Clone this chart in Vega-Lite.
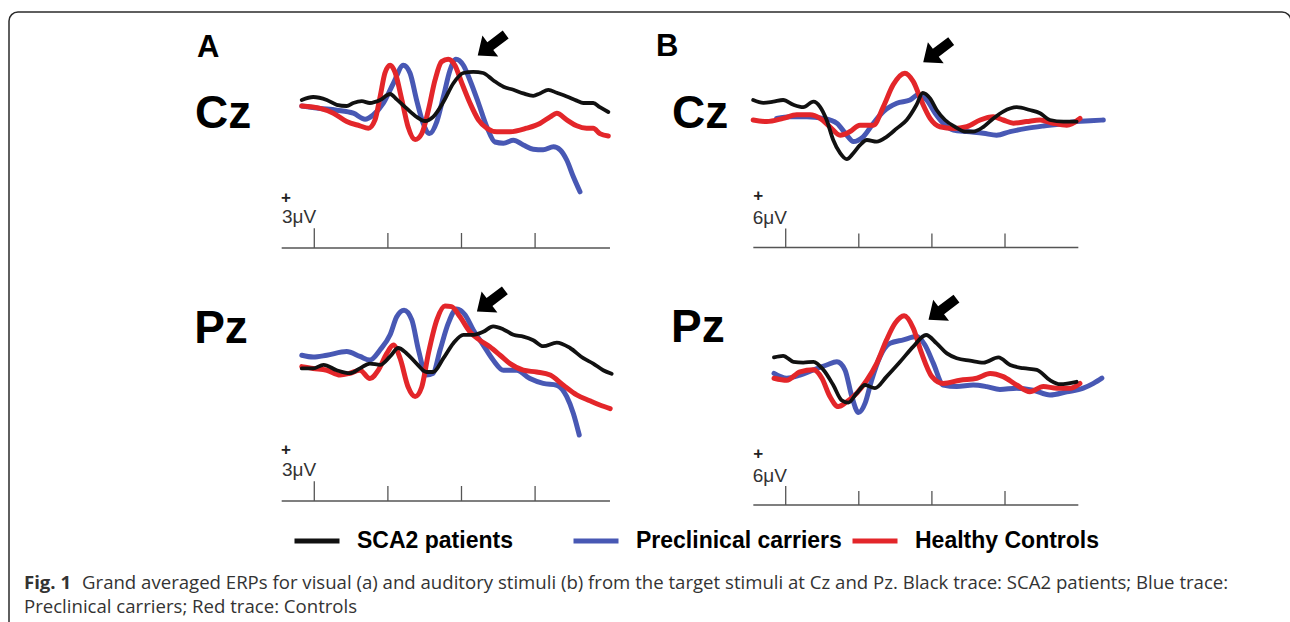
{
  "$schema": "https://vega.github.io/schema/vega-lite/v6.json",
  "autosize": {"type": "fit", "contains": "padding"},
  "width": 1290,
  "height": 622,
  "padding": {"left": 9, "top": 12, "right": -1, "bottom": -10},
  "background": "white",
  "config": {
    "view": {"stroke": "#2b2b2b", "strokeWidth": 1.5, "cornerRadius": 9},
    "text": {"font": "Liberation Sans"}
  },
  "datasets": {
    "acz": [
      {"g":"Preclinical carriers","t":-34,"v":-0.5},{"g":"Preclinical carriers","t":16,"v":-0.9},{"g":"Preclinical carriers","t":61,"v":-1.2},{"g":"Preclinical carriers","t":106,"v":-1.7},{"g":"Preclinical carriers","t":138,"v":-2.7},{"g":"Preclinical carriers","t":160,"v":-2},{"g":"Preclinical carriers","t":188,"v":0},{"g":"Preclinical carriers","t":215,"v":3.3},{"g":"Preclinical carriers","t":242,"v":6.3},{"g":"Preclinical carriers","t":260,"v":5},{"g":"Preclinical carriers","t":278,"v":0.5},{"g":"Preclinical carriers","t":296,"v":-3.4},{"g":"Preclinical carriers","t":313,"v":-5.1},{"g":"Preclinical carriers","t":333,"v":-3.1},{"g":"Preclinical carriers","t":351,"v":1.1},{"g":"Preclinical carriers","t":369,"v":5.5},{"g":"Preclinical carriers","t":385,"v":7.3},{"g":"Preclinical carriers","t":405,"v":6.3},{"g":"Preclinical carriers","t":423,"v":3.8},{"g":"Preclinical carriers","t":446,"v":0},{"g":"Preclinical carriers","t":469,"v":-4},{"g":"Preclinical carriers","t":491,"v":-6.5},{"g":"Preclinical carriers","t":514,"v":-6.7},{"g":"Preclinical carriers","t":541,"v":-6.2},{"g":"Preclinical carriers","t":568,"v":-7},{"g":"Preclinical carriers","t":595,"v":-7.7},{"g":"Preclinical carriers","t":622,"v":-7.8},{"g":"Preclinical carriers","t":650,"v":-7.3},{"g":"Preclinical carriers","t":668,"v":-7.8},{"g":"Preclinical carriers","t":686,"v":-9.5},{"g":"Preclinical carriers","t":704,"v":-12.3},{"g":"Preclinical carriers","t":722,"v":-14.8},
      {"g":"Healthy Controls","t":-34,"v":-0.5},{"g":"Healthy Controls","t":16,"v":-0.9},{"g":"Healthy Controls","t":52,"v":-1.7},{"g":"Healthy Controls","t":88,"v":-3.1},{"g":"Healthy Controls","t":124,"v":-3.8},{"g":"Healthy Controls","t":147,"v":-4.2},{"g":"Healthy Controls","t":165,"v":-2.8},{"g":"Healthy Controls","t":179,"v":1.1},{"g":"Healthy Controls","t":192,"v":5},{"g":"Healthy Controls","t":206,"v":6.3},{"g":"Healthy Controls","t":219,"v":5.2},{"g":"Healthy Controls","t":238,"v":0.5},{"g":"Healthy Controls","t":255,"v":-4},{"g":"Healthy Controls","t":274,"v":-6.1},{"g":"Healthy Controls","t":292,"v":-5.1},{"g":"Healthy Controls","t":310,"v":-1.2},{"g":"Healthy Controls","t":328,"v":3.8},{"g":"Healthy Controls","t":346,"v":6.9},{"g":"Healthy Controls","t":364,"v":7.3},{"g":"Healthy Controls","t":382,"v":6.3},{"g":"Healthy Controls","t":401,"v":3.3},{"g":"Healthy Controls","t":423,"v":0},{"g":"Healthy Controls","t":446,"v":-2.8},{"g":"Healthy Controls","t":469,"v":-4.2},{"g":"Healthy Controls","t":496,"v":-4.8},{"g":"Healthy Controls","t":532,"v":-4.8},{"g":"Healthy Controls","t":577,"v":-4.2},{"g":"Healthy Controls","t":613,"v":-3.4},{"g":"Healthy Controls","t":641,"v":-2.3},{"g":"Healthy Controls","t":659,"v":-1.7},{"g":"Healthy Controls","t":686,"v":-2.8},{"g":"Healthy Controls","t":713,"v":-3.8},{"g":"Healthy Controls","t":740,"v":-4.2},{"g":"Healthy Controls","t":758,"v":-4.2},{"g":"Healthy Controls","t":776,"v":-5.1},{"g":"Healthy Controls","t":799,"v":-5.5},
      {"g":"SCA2 patients","t":-34,"v":0.5},{"g":"SCA2 patients","t":-3,"v":1},{"g":"SCA2 patients","t":34,"v":0.5},{"g":"SCA2 patients","t":61,"v":-0.3},{"g":"SCA2 patients","t":88,"v":-0.5},{"g":"SCA2 patients","t":106,"v":0},{"g":"SCA2 patients","t":129,"v":0.3},{"g":"SCA2 patients","t":151,"v":0},{"g":"SCA2 patients","t":179,"v":0.5},{"g":"SCA2 patients","t":206,"v":1.5},{"g":"SCA2 patients","t":224,"v":0.6},{"g":"SCA2 patients","t":251,"v":-0.9},{"g":"SCA2 patients","t":278,"v":-2.3},{"g":"SCA2 patients","t":301,"v":-3},{"g":"SCA2 patients","t":323,"v":-2.3},{"g":"SCA2 patients","t":351,"v":0.2},{"g":"SCA2 patients","t":378,"v":3.3},{"g":"SCA2 patients","t":405,"v":5},{"g":"SCA2 patients","t":432,"v":5.2},{"g":"SCA2 patients","t":459,"v":5},{"g":"SCA2 patients","t":486,"v":3.8},{"g":"SCA2 patients","t":514,"v":2.7},{"g":"SCA2 patients","t":541,"v":2.2},{"g":"SCA2 patients","t":568,"v":1.6},{"g":"SCA2 patients","t":595,"v":1.2},{"g":"SCA2 patients","t":613,"v":1.6},{"g":"SCA2 patients","t":636,"v":2.2},{"g":"SCA2 patients","t":659,"v":1.7},{"g":"SCA2 patients","t":686,"v":1.1},{"g":"SCA2 patients","t":713,"v":0.4},{"g":"SCA2 patients","t":731,"v":0},{"g":"SCA2 patients","t":758,"v":0},{"g":"SCA2 patients","t":776,"v":-0.7},{"g":"SCA2 patients","t":799,"v":-1.5}
    ],
    "apz": [
      {"g":"Preclinical carriers","t":-34,"v":0.8},{"g":"Preclinical carriers","t":-3,"v":0.5},{"g":"Preclinical carriers","t":34,"v":0.8},{"g":"Preclinical carriers","t":88,"v":1.4},{"g":"Preclinical carriers","t":124,"v":0.6},{"g":"Preclinical carriers","t":151,"v":0},{"g":"Preclinical carriers","t":179,"v":1.7},{"g":"Preclinical carriers","t":206,"v":4.2},{"g":"Preclinical carriers","t":224,"v":7.2},{"g":"Preclinical carriers","t":244,"v":8.3},{"g":"Preclinical carriers","t":265,"v":6.7},{"g":"Preclinical carriers","t":283,"v":1.7},{"g":"Preclinical carriers","t":305,"v":-2.5},{"g":"Preclinical carriers","t":323,"v":-2.2},{"g":"Preclinical carriers","t":342,"v":1.7},{"g":"Preclinical carriers","t":364,"v":6.1},{"g":"Preclinical carriers","t":387,"v":8.5},{"g":"Preclinical carriers","t":410,"v":7.5},{"g":"Preclinical carriers","t":432,"v":5},{"g":"Preclinical carriers","t":459,"v":2.5},{"g":"Preclinical carriers","t":486,"v":0},{"g":"Preclinical carriers","t":514,"v":-1.7},{"g":"Preclinical carriers","t":550,"v":-1.7},{"g":"Preclinical carriers","t":586,"v":-3.1},{"g":"Preclinical carriers","t":622,"v":-3.9},{"g":"Preclinical carriers","t":659,"v":-4.2},{"g":"Preclinical carriers","t":686,"v":-6.1},{"g":"Preclinical carriers","t":704,"v":-8.9},{"g":"Preclinical carriers","t":720,"v":-12.5},
      {"g":"Healthy Controls","t":-34,"v":-1.1},{"g":"Healthy Controls","t":-3,"v":-1.4},{"g":"Healthy Controls","t":34,"v":-1.7},{"g":"Healthy Controls","t":70,"v":-2.5},{"g":"Healthy Controls","t":97,"v":-2.2},{"g":"Healthy Controls","t":124,"v":-1.7},{"g":"Healthy Controls","t":151,"v":-3.1},{"g":"Healthy Controls","t":174,"v":-1.7},{"g":"Healthy Controls","t":197,"v":1.1},{"g":"Healthy Controls","t":215,"v":2.5},{"g":"Healthy Controls","t":233,"v":0.3},{"g":"Healthy Controls","t":255,"v":-4.5},{"g":"Healthy Controls","t":274,"v":-6.1},{"g":"Healthy Controls","t":292,"v":-4.5},{"g":"Healthy Controls","t":310,"v":1.1},{"g":"Healthy Controls","t":333,"v":6.7},{"g":"Healthy Controls","t":355,"v":9},{"g":"Healthy Controls","t":373,"v":8.9},{"g":"Healthy Controls","t":396,"v":7.2},{"g":"Healthy Controls","t":423,"v":4.7},{"g":"Healthy Controls","t":450,"v":3.3},{"g":"Healthy Controls","t":477,"v":2.2},{"g":"Healthy Controls","t":505,"v":0.8},{"g":"Healthy Controls","t":532,"v":-0.6},{"g":"Healthy Controls","t":568,"v":-1.7},{"g":"Healthy Controls","t":604,"v":-2},{"g":"Healthy Controls","t":641,"v":-2.5},{"g":"Healthy Controls","t":677,"v":-4.2},{"g":"Healthy Controls","t":713,"v":-5.8},{"g":"Healthy Controls","t":749,"v":-6.8},{"g":"Healthy Controls","t":776,"v":-7.5},{"g":"Healthy Controls","t":804,"v":-8.1},
      {"g":"SCA2 patients","t":-34,"v":-1.4},{"g":"SCA2 patients","t":-3,"v":-1.4},{"g":"SCA2 patients","t":25,"v":-0.8},{"g":"SCA2 patients","t":61,"v":-1.7},{"g":"SCA2 patients","t":97,"v":-2.2},{"g":"SCA2 patients","t":124,"v":-1.4},{"g":"SCA2 patients","t":151,"v":-0.6},{"g":"SCA2 patients","t":179,"v":-0.8},{"g":"SCA2 patients","t":206,"v":0.6},{"g":"SCA2 patients","t":228,"v":2},{"g":"SCA2 patients","t":251,"v":1.1},{"g":"SCA2 patients","t":278,"v":-0.6},{"g":"SCA2 patients","t":305,"v":-2},{"g":"SCA2 patients","t":323,"v":-2},{"g":"SCA2 patients","t":351,"v":0.3},{"g":"SCA2 patients","t":378,"v":2.8},{"g":"SCA2 patients","t":405,"v":4.2},{"g":"SCA2 patients","t":432,"v":4.2},{"g":"SCA2 patients","t":459,"v":4.7},{"g":"SCA2 patients","t":486,"v":5.6},{"g":"SCA2 patients","t":514,"v":5.1},{"g":"SCA2 patients","t":541,"v":4.2},{"g":"SCA2 patients","t":568,"v":3.9},{"g":"SCA2 patients","t":595,"v":3.3},{"g":"SCA2 patients","t":622,"v":2.3},{"g":"SCA2 patients","t":659,"v":2.9},{"g":"SCA2 patients","t":695,"v":2},{"g":"SCA2 patients","t":731,"v":0.3},{"g":"SCA2 patients","t":758,"v":-0.6},{"g":"SCA2 patients","t":785,"v":-1.7},{"g":"SCA2 patients","t":808,"v":-2.3}
    ],
    "bcz": [
      {"g":"Preclinical carriers","t":-25,"v":0.4},{"g":"Preclinical carriers","t":12,"v":0.8},{"g":"Preclinical carriers","t":58,"v":0.8},{"g":"Preclinical carriers","t":103,"v":0.4},{"g":"Preclinical carriers","t":140,"v":-0.8},{"g":"Preclinical carriers","t":167,"v":-3.8},{"g":"Preclinical carriers","t":185,"v":-5.4},{"g":"Preclinical carriers","t":212,"v":-4.2},{"g":"Preclinical carriers","t":240,"v":-0.8},{"g":"Preclinical carriers","t":267,"v":2.1},{"g":"Preclinical carriers","t":304,"v":4.2},{"g":"Preclinical carriers","t":340,"v":5},{"g":"Preclinical carriers","t":363,"v":6.3},{"g":"Preclinical carriers","t":386,"v":5},{"g":"Preclinical carriers","t":409,"v":1.7},{"g":"Preclinical carriers","t":431,"v":-0.8},{"g":"Preclinical carriers","t":459,"v":-2.5},{"g":"Preclinical carriers","t":495,"v":-2.9},{"g":"Preclinical carriers","t":541,"v":-3.3},{"g":"Preclinical carriers","t":577,"v":-3.8},{"g":"Preclinical carriers","t":614,"v":-2.9},{"g":"Preclinical carriers","t":659,"v":-2.1},{"g":"Preclinical carriers","t":705,"v":-1.5},{"g":"Preclinical carriers","t":751,"v":-1},{"g":"Preclinical carriers","t":796,"v":-0.4},{"g":"Preclinical carriers","t":833,"v":-0.2},{"g":"Preclinical carriers","t":869,"v":0},
      {"g":"Healthy Controls","t":-89,"v":0},{"g":"Healthy Controls","t":-52,"v":-0.4},{"g":"Healthy Controls","t":-7,"v":0.4},{"g":"Healthy Controls","t":30,"v":1.3},{"g":"Healthy Controls","t":67,"v":1.3},{"g":"Healthy Controls","t":94,"v":0.4},{"g":"Healthy Controls","t":121,"v":-1.7},{"g":"Healthy Controls","t":149,"v":-3.8},{"g":"Healthy Controls","t":176,"v":-2.9},{"g":"Healthy Controls","t":203,"v":-1.3},{"g":"Healthy Controls","t":240,"v":-1.3},{"g":"Healthy Controls","t":267,"v":3.3},{"g":"Healthy Controls","t":294,"v":8.8},{"g":"Healthy Controls","t":326,"v":11.7},{"g":"Healthy Controls","t":349,"v":9.6},{"g":"Healthy Controls","t":372,"v":4.6},{"g":"Healthy Controls","t":395,"v":0.4},{"g":"Healthy Controls","t":422,"v":-1.7},{"g":"Healthy Controls","t":459,"v":-2.1},{"g":"Healthy Controls","t":495,"v":-1.7},{"g":"Healthy Controls","t":532,"v":0},{"g":"Healthy Controls","t":568,"v":0.8},{"g":"Healthy Controls","t":595,"v":0},{"g":"Healthy Controls","t":623,"v":-0.8},{"g":"Healthy Controls","t":659,"v":-0.4},{"g":"Healthy Controls","t":696,"v":0},{"g":"Healthy Controls","t":732,"v":-0.8},{"g":"Healthy Controls","t":769,"v":-1.3},{"g":"Healthy Controls","t":805,"v":0.4},
      {"g":"SCA2 patients","t":-89,"v":5},{"g":"SCA2 patients","t":-61,"v":4.3},{"g":"SCA2 patients","t":-34,"v":4.6},{"g":"SCA2 patients","t":-7,"v":5},{"g":"SCA2 patients","t":21,"v":3.8},{"g":"SCA2 patients","t":48,"v":3.2},{"g":"SCA2 patients","t":76,"v":4.6},{"g":"SCA2 patients","t":94,"v":3.3},{"g":"SCA2 patients","t":112,"v":0},{"g":"SCA2 patients","t":130,"v":-5},{"g":"SCA2 patients","t":149,"v":-8.3},{"g":"SCA2 patients","t":167,"v":-9.8},{"g":"SCA2 patients","t":185,"v":-8.3},{"g":"SCA2 patients","t":203,"v":-6.3},{"g":"SCA2 patients","t":222,"v":-5},{"g":"SCA2 patients","t":249,"v":-5.4},{"g":"SCA2 patients","t":276,"v":-4.2},{"g":"SCA2 patients","t":304,"v":-2.1},{"g":"SCA2 patients","t":331,"v":0},{"g":"SCA2 patients","t":358,"v":3.8},{"g":"SCA2 patients","t":375,"v":6.8},{"g":"SCA2 patients","t":395,"v":5.4},{"g":"SCA2 patients","t":413,"v":2.5},{"g":"SCA2 patients","t":436,"v":0},{"g":"SCA2 patients","t":463,"v":-1.7},{"g":"SCA2 patients","t":491,"v":-2.9},{"g":"SCA2 patients","t":513,"v":-2.9},{"g":"SCA2 patients","t":541,"v":-1.7},{"g":"SCA2 patients","t":568,"v":0.4},{"g":"SCA2 patients","t":595,"v":2.1},{"g":"SCA2 patients","t":632,"v":3.2},{"g":"SCA2 patients","t":668,"v":2.5},{"g":"SCA2 patients","t":696,"v":1.7},{"g":"SCA2 patients","t":723,"v":0},{"g":"SCA2 patients","t":760,"v":-0.4},{"g":"SCA2 patients","t":796,"v":-0.4}
    ],
    "bpz": [
      {"g":"Preclinical carriers","t":-32,"v":0.4},{"g":"Preclinical carriers","t":3,"v":-0.8},{"g":"Preclinical carriers","t":39,"v":0},{"g":"Preclinical carriers","t":76,"v":1.3},{"g":"Preclinical carriers","t":112,"v":2.5},{"g":"Preclinical carriers","t":140,"v":3.3},{"g":"Preclinical carriers","t":162,"v":1.3},{"g":"Preclinical carriers","t":181,"v":-5.4},{"g":"Preclinical carriers","t":199,"v":-9.4},{"g":"Preclinical carriers","t":217,"v":-7.1},{"g":"Preclinical carriers","t":235,"v":-1.3},{"g":"Preclinical carriers","t":258,"v":4.6},{"g":"Preclinical carriers","t":285,"v":7.9},{"g":"Preclinical carriers","t":322,"v":8.8},{"g":"Preclinical carriers","t":358,"v":9.6},{"g":"Preclinical carriers","t":381,"v":7.5},{"g":"Preclinical carriers","t":404,"v":2.9},{"g":"Preclinical carriers","t":431,"v":-2.5},{"g":"Preclinical carriers","t":468,"v":-2.9},{"g":"Preclinical carriers","t":513,"v":-2.5},{"g":"Preclinical carriers","t":550,"v":-2.9},{"g":"Preclinical carriers","t":586,"v":-3.6},{"g":"Preclinical carriers","t":632,"v":-3.3},{"g":"Preclinical carriers","t":677,"v":-3.8},{"g":"Preclinical carriers","t":723,"v":-5},{"g":"Preclinical carriers","t":769,"v":-4.2},{"g":"Preclinical carriers","t":814,"v":-3.3},{"g":"Preclinical carriers","t":842,"v":-2.1},{"g":"Preclinical carriers","t":865,"v":-0.8},
      {"g":"Healthy Controls","t":-32,"v":-0.8},{"g":"Healthy Controls","t":3,"v":-1.3},{"g":"Healthy Controls","t":39,"v":0.8},{"g":"Healthy Controls","t":76,"v":1.3},{"g":"Healthy Controls","t":99,"v":-0.8},{"g":"Healthy Controls","t":121,"v":-5.4},{"g":"Healthy Controls","t":144,"v":-7.9},{"g":"Healthy Controls","t":167,"v":-6.7},{"g":"Healthy Controls","t":194,"v":-4.6},{"g":"Healthy Controls","t":222,"v":-1.3},{"g":"Healthy Controls","t":249,"v":2.9},{"g":"Healthy Controls","t":276,"v":8.8},{"g":"Healthy Controls","t":299,"v":12.9},{"g":"Healthy Controls","t":324,"v":14.8},{"g":"Healthy Controls","t":349,"v":11.7},{"g":"Healthy Controls","t":372,"v":5.4},{"g":"Healthy Controls","t":400,"v":-0.4},{"g":"Healthy Controls","t":431,"v":-2.1},{"g":"Healthy Controls","t":477,"v":-1.3},{"g":"Healthy Controls","t":523,"v":-0.8},{"g":"Healthy Controls","t":559,"v":0.4},{"g":"Healthy Controls","t":595,"v":-0.4},{"g":"Healthy Controls","t":632,"v":-2.5},{"g":"Healthy Controls","t":668,"v":-4.2},{"g":"Healthy Controls","t":705,"v":-2.9},{"g":"Healthy Controls","t":742,"v":-3.3},{"g":"Healthy Controls","t":778,"v":-3.3},{"g":"Healthy Controls","t":805,"v":-2.1},
      {"g":"SCA2 patients","t":-32,"v":4.4},{"g":"SCA2 patients","t":-7,"v":4.8},{"g":"SCA2 patients","t":21,"v":3.3},{"g":"SCA2 patients","t":48,"v":3.1},{"g":"SCA2 patients","t":76,"v":3.3},{"g":"SCA2 patients","t":103,"v":1.3},{"g":"SCA2 patients","t":130,"v":-2.5},{"g":"SCA2 patients","t":153,"v":-6.3},{"g":"SCA2 patients","t":171,"v":-6.9},{"g":"SCA2 patients","t":194,"v":-4.6},{"g":"SCA2 patients","t":217,"v":-2.5},{"g":"SCA2 patients","t":244,"v":-3.3},{"g":"SCA2 patients","t":276,"v":-0.4},{"g":"SCA2 patients","t":313,"v":3.3},{"g":"SCA2 patients","t":349,"v":7.1},{"g":"SCA2 patients","t":384,"v":10},{"g":"SCA2 patients","t":413,"v":7.9},{"g":"SCA2 patients","t":441,"v":5.4},{"g":"SCA2 patients","t":468,"v":4.2},{"g":"SCA2 patients","t":504,"v":3.6},{"g":"SCA2 patients","t":541,"v":3.1},{"g":"SCA2 patients","t":582,"v":4.4},{"g":"SCA2 patients","t":614,"v":2.5},{"g":"SCA2 patients","t":650,"v":1.7},{"g":"SCA2 patients","t":687,"v":1.3},{"g":"SCA2 patients","t":723,"v":-1.3},{"g":"SCA2 patients","t":751,"v":-2.3},{"g":"SCA2 patients","t":796,"v":-1.7}
    ]
  },
  "layer": [
    {
      "layer": [
        {"data": {"name": "acz"}, "mark": {"type": "line", "interpolate": "monotone", "strokeCap": "round", "strokeJoin": "round"},
         "encoding": {
           "x": {"field": "t", "type": "quantitative", "scale": {"domain": [-829.6, 2654.1], "nice": false, "zero": false}, "axis": null},
           "y": {"field": "v", "type": "quantitative", "scale": {"domain": [-88.17, 15.17], "nice": false, "zero": false}, "axis": null},
           "color": {"field": "g", "type": "nominal", "scale": {"domain": ["SCA2 patients", "Preclinical carriers", "Healthy Controls"], "range": ["#111111", "#4858b4", "#e3262a"]},
             "legend": {"orient": "none", "legendX": 283, "legendY": 504, "direction": "horizontal", "columns": 3, "gridAlign": "all", "columnPadding": 0, "title": null, "symbolType": "stroke", "symbolSize": 2025, "symbolStrokeWidth": 5, "labelFont": "Liberation Sans", "labelFontWeight": "bold", "labelFontSize": 23, "labelColor": "#000000", "labelOffset": 15, "labelLimit": 400, "padding": 0}},
           "strokeWidth": {"condition": {"test": "datum.g === 'SCA2 patients'", "value": 3.8}, "value": 5}
         }},
        {"data": {"values": [{}]}, "mark": {"type": "rule", "color": "#555555", "strokeWidth": 1.3},
         "encoding": {"x": {"datum": -88.6, "type": "quantitative"}, "x2": {"datum": 803.5}, "y": {"datum": -24.17, "type": "quantitative"}}},
        {"data": {"values": [{}]}, "mark": {"type": "rule", "color": "#555555", "strokeWidth": 1.3},
         "encoding": {"x": {"datum": 0, "type": "quantitative"}, "y": {"datum": -24.17, "type": "quantitative"}, "y2": {"datum": -20.88}}},
        {"data": {"values": [{"t": 200}, {"t": 400}, {"t": 600}]}, "mark": {"type": "rule", "color": "#555555", "strokeWidth": 1.3},
         "encoding": {"x": {"field": "t", "type": "quantitative"}, "y": {"datum": -24.17, "type": "quantitative"}, "y2": {"datum": -21.67}}},
        {"data": {"values": [{}]}, "mark": {"type": "text", "text": "+", "fontSize": 17, "fontWeight": "bold", "align": "center", "baseline": "middle", "color": "#222222"},
         "encoding": {"x": {"datum": -76.9, "type": "quantitative"}, "y": {"datum": -15.75, "type": "quantitative"}}},
        {"data": {"values": [{}]}, "mark": {"type": "text", "text": "3μV", "fontSize": 19, "align": "left", "baseline": "alphabetic", "color": "#333333"},
         "encoding": {"x": {"datum": -87.8, "type": "quantitative"}, "y": {"datum": -20, "type": "quantitative"}}},
        {"data": {"values": [{}]}, "mark": {"type": "text", "text": "A", "fontSize": 31, "fontWeight": "bold", "align": "left", "baseline": "alphabetic", "color": "#000000"},
         "encoding": {"x": {"datum": -318.8, "type": "quantitative"}, "y": {"datum": 7.72, "type": "quantitative"}}},
        {"data": {"values": [{}]}, "mark": {"type": "text", "text": "Cz", "fontSize": 46, "fontWeight": "bold", "align": "left", "baseline": "alphabetic", "color": "#000000"},
         "encoding": {"x": {"datum": -324.2, "type": "quantitative"}, "y": {"datum": -4.22, "type": "quantitative"}}},
        {"data": {"values": [{}]}, "mark": {"type": "point", "shape": "M-1,0L-0.1,-0.75L-0.1,-0.28L1,-0.28L1,0.28L-0.1,0.28L-0.1,0.75Z", "size": 1225, "angle": 323, "filled": true, "color": "#000000", "opacity": 1, "strokeWidth": 0},
         "encoding": {"x": {"datum": 482.1, "type": "quantitative"}, "y": {"datum": 9.67, "type": "quantitative"}}}
      ]
    },
    {
      "layer": [
        {"data": {"name": "apz"}, "mark": {"type": "line", "interpolate": "monotone", "strokeCap": "round", "strokeJoin": "round"},
         "encoding": {
           "x": {"field": "t", "type": "quantitative", "scale": {"domain": [-829.6, 2654.1], "nice": false, "zero": false}, "axis": null},
           "y": {"field": "v", "type": "quantitative", "scale": {"domain": [-45.33, 58], "nice": false, "zero": false}, "axis": null},
           "color": {"field": "g", "type": "nominal", "scale": {"domain": ["SCA2 patients", "Preclinical carriers", "Healthy Controls"], "range": ["#111111", "#4858b4", "#e3262a"]},
             "legend": {"orient": "none", "legendX": 283, "legendY": 504, "direction": "horizontal", "columns": 3, "gridAlign": "all", "columnPadding": 0, "title": null, "symbolType": "stroke", "symbolSize": 2025, "symbolStrokeWidth": 5, "labelFont": "Liberation Sans", "labelFontWeight": "bold", "labelFontSize": 23, "labelColor": "#000000", "labelOffset": 15, "labelLimit": 400, "padding": 0}},
           "strokeWidth": {"condition": {"test": "datum.g === 'SCA2 patients'", "value": 3.8}, "value": 5}
         }},
        {"data": {"values": [{}]}, "mark": {"type": "rule", "color": "#555555", "strokeWidth": 1.3},
         "encoding": {"x": {"datum": -88.6, "type": "quantitative"}, "x2": {"datum": 803.5}, "y": {"datum": -23.5, "type": "quantitative"}}},
        {"data": {"values": [{}]}, "mark": {"type": "rule", "color": "#555555", "strokeWidth": 1.3},
         "encoding": {"x": {"datum": 0, "type": "quantitative"}, "y": {"datum": -23.5, "type": "quantitative"}, "y2": {"datum": -20.22}}},
        {"data": {"values": [{"t": 200}, {"t": 400}, {"t": 600}]}, "mark": {"type": "rule", "color": "#555555", "strokeWidth": 1.3},
         "encoding": {"x": {"field": "t", "type": "quantitative"}, "y": {"datum": -23.5, "type": "quantitative"}, "y2": {"datum": -21}}},
        {"data": {"values": [{}]}, "mark": {"type": "text", "text": "+", "fontSize": 17, "fontWeight": "bold", "align": "center", "baseline": "middle", "color": "#222222"},
         "encoding": {"x": {"datum": -76.9, "type": "quantitative"}, "y": {"datum": -15.08, "type": "quantitative"}}},
        {"data": {"values": [{}]}, "mark": {"type": "text", "text": "3μV", "fontSize": 19, "align": "left", "baseline": "alphabetic", "color": "#333333"},
         "encoding": {"x": {"datum": -87.8, "type": "quantitative"}, "y": {"datum": -19.33, "type": "quantitative"}}},
        {"data": {"values": [{}]}, "mark": {"type": "text", "text": "Pz", "fontSize": 46, "fontWeight": "bold", "align": "left", "baseline": "alphabetic", "color": "#000000"},
         "encoding": {"x": {"datum": -326.4, "type": "quantitative"}, "y": {"datum": 2.78, "type": "quantitative"}}},
        {"data": {"values": [{}]}, "mark": {"type": "point", "shape": "M-1,0L-0.1,-0.75L-0.1,-0.28L1,-0.28L1,0.28L-0.1,0.28L-0.1,0.75Z", "size": 1225, "angle": 323, "filled": true, "color": "#000000", "opacity": 1, "strokeWidth": 0},
         "encoding": {"x": {"datum": 479.9, "type": "quantitative"}, "y": {"datum": 9.85, "type": "quantitative"}}},
        {"data": {"values": [{}]}, "mark": {"type": "text", "text": "Fig. 1", "font": "Open Sans", "fontSize": 18.6, "fontWeight": "bold", "align": "left", "baseline": "alphabetic", "color": "#333333"},
         "encoding": {"x": {"datum": -788.9, "type": "quantitative"}, "y": {"datum": -38.17, "type": "quantitative"}}},
        {"data": {"values": [{}]}, "mark": {"type": "text", "text": "Grand averaged ERPs for visual (a) and auditory stimuli (b) from the target stimuli at Cz and Pz. Black trace: SCA2 patients; Blue trace:", "font": "Open Sans", "fontSize": 18.6, "align": "left", "baseline": "alphabetic", "color": "#333333"},
         "encoding": {"x": {"datum": -631.2, "type": "quantitative"}, "y": {"datum": -38.17, "type": "quantitative"}}},
        {"data": {"values": [{}]}, "mark": {"type": "text", "text": "Preclinical carriers; Red trace: Controls", "font": "Open Sans", "fontSize": 18.6, "align": "left", "baseline": "alphabetic", "color": "#333333"},
         "encoding": {"x": {"datum": -788.9, "type": "quantitative"}, "y": {"datum": -42.17, "type": "quantitative"}}}
      ]
    },
    {
      "layer": [
        {"data": {"name": "bcz"}, "mark": {"type": "line", "interpolate": "monotone", "strokeCap": "round", "strokeJoin": "round"},
         "encoding": {
           "x": {"field": "t", "type": "quantitative", "scale": {"domain": [-2125.1, 1382.5], "nice": false, "zero": false}, "axis": null},
           "y": {"field": "v", "type": "quantitative", "scale": {"domain": [-128, 27], "nice": false, "zero": false}, "axis": null},
           "color": {"field": "g", "type": "nominal", "scale": {"domain": ["SCA2 patients", "Preclinical carriers", "Healthy Controls"], "range": ["#111111", "#4858b4", "#e3262a"]},
             "legend": {"orient": "none", "legendX": 283, "legendY": 504, "direction": "horizontal", "columns": 3, "gridAlign": "all", "columnPadding": 0, "title": null, "symbolType": "stroke", "symbolSize": 2025, "symbolStrokeWidth": 5, "labelFont": "Liberation Sans", "labelFontWeight": "bold", "labelFontSize": 23, "labelColor": "#000000", "labelOffset": 15, "labelLimit": 400, "padding": 0}},
           "strokeWidth": {"condition": {"test": "datum.g === 'SCA2 patients'", "value": 3.8}, "value": 5}
         }},
        {"data": {"values": [{}]}, "mark": {"type": "rule", "color": "#555555", "strokeWidth": 1.3},
         "encoding": {"x": {"datum": -88.6, "type": "quantitative"}, "x2": {"datum": 800.6}, "y": {"datum": -31.88, "type": "quantitative"}}},
        {"data": {"values": [{}]}, "mark": {"type": "rule", "color": "#555555", "strokeWidth": 1.3},
         "encoding": {"x": {"datum": 0, "type": "quantitative"}, "y": {"datum": -31.88, "type": "quantitative"}, "y2": {"datum": -27.13}}},
        {"data": {"values": [{"t": 200}, {"t": 400}, {"t": 600}]}, "mark": {"type": "rule", "color": "#555555", "strokeWidth": 1.3},
         "encoding": {"x": {"field": "t", "type": "quantitative"}, "y": {"datum": -31.88, "type": "quantitative"}, "y2": {"datum": -28.38}}},
        {"data": {"values": [{}]}, "mark": {"type": "text", "text": "+", "fontSize": 17, "fontWeight": "bold", "align": "center", "baseline": "middle", "color": "#222222"},
         "encoding": {"x": {"datum": -75, "type": "quantitative"}, "y": {"datum": -19.05, "type": "quantitative"}}},
        {"data": {"values": [{}]}, "mark": {"type": "text", "text": "6μV", "fontSize": 19, "align": "left", "baseline": "alphabetic", "color": "#333333"},
         "encoding": {"x": {"datum": -90.3, "type": "quantitative"}, "y": {"datum": -26.05, "type": "quantitative"}}},
        {"data": {"values": [{}]}, "mark": {"type": "text", "text": "B", "fontSize": 31, "fontWeight": "bold", "align": "left", "baseline": "alphabetic", "color": "#000000"},
         "encoding": {"x": {"datum": -355, "type": "quantitative"}, "y": {"datum": 16, "type": "quantitative"}}},
        {"data": {"values": [{}]}, "mark": {"type": "text", "text": "Cz", "fontSize": 46, "fontWeight": "bold", "align": "left", "baseline": "alphabetic", "color": "#000000"},
         "encoding": {"x": {"datum": -311.1, "type": "quantitative"}, "y": {"datum": -2.08, "type": "quantitative"}}},
        {"data": {"values": [{}]}, "mark": {"type": "point", "shape": "M-1,0L-0.1,-0.75L-0.1,-0.28L1,-0.28L1,0.28L-0.1,0.28L-0.1,0.75Z", "size": 1225, "angle": 323, "filled": true, "color": "#000000", "opacity": 1, "strokeWidth": 0},
         "encoding": {"x": {"datum": 414.5, "type": "quantitative"}, "y": {"datum": 17.08, "type": "quantitative"}}}
      ]
    },
    {
      "layer": [
        {"data": {"name": "bpz"}, "mark": {"type": "line", "interpolate": "monotone", "strokeCap": "round", "strokeJoin": "round"},
         "encoding": {
           "x": {"field": "t", "type": "quantitative", "scale": {"domain": [-2125.1, 1382.5], "nice": false, "zero": false}, "axis": null},
           "y": {"field": "v", "type": "quantitative", "scale": {"domain": [-64.25, 90.75], "nice": false, "zero": false}, "axis": null},
           "color": {"field": "g", "type": "nominal", "scale": {"domain": ["SCA2 patients", "Preclinical carriers", "Healthy Controls"], "range": ["#111111", "#4858b4", "#e3262a"]},
             "legend": {"orient": "none", "legendX": 283, "legendY": 504, "direction": "horizontal", "columns": 3, "gridAlign": "all", "columnPadding": 0, "title": null, "symbolType": "stroke", "symbolSize": 2025, "symbolStrokeWidth": 5, "labelFont": "Liberation Sans", "labelFontWeight": "bold", "labelFontSize": 23, "labelColor": "#000000", "labelOffset": 15, "labelLimit": 400, "padding": 0}},
           "strokeWidth": {"condition": {"test": "datum.g === 'SCA2 patients'", "value": 3.8}, "value": 5}
         }},
        {"data": {"values": [{}]}, "mark": {"type": "rule", "color": "#555555", "strokeWidth": 1.3},
         "encoding": {"x": {"datum": -88.6, "type": "quantitative"}, "x2": {"datum": 800.6}, "y": {"datum": -32.5, "type": "quantitative"}}},
        {"data": {"values": [{}]}, "mark": {"type": "rule", "color": "#555555", "strokeWidth": 1.3},
         "encoding": {"x": {"datum": 0, "type": "quantitative"}, "y": {"datum": -32.5, "type": "quantitative"}, "y2": {"datum": -27.75}}},
        {"data": {"values": [{"t": 200}, {"t": 400}, {"t": 600}]}, "mark": {"type": "rule", "color": "#555555", "strokeWidth": 1.3},
         "encoding": {"x": {"field": "t", "type": "quantitative"}, "y": {"datum": -32.5, "type": "quantitative"}, "y2": {"datum": -29}}},
        {"data": {"values": [{}]}, "mark": {"type": "text", "text": "+", "fontSize": 17, "fontWeight": "bold", "align": "center", "baseline": "middle", "color": "#222222"},
         "encoding": {"x": {"datum": -75, "type": "quantitative"}, "y": {"datum": -19.68, "type": "quantitative"}}},
        {"data": {"values": [{}]}, "mark": {"type": "text", "text": "6μV", "fontSize": 19, "align": "left", "baseline": "alphabetic", "color": "#333333"},
         "encoding": {"x": {"datum": -90.3, "type": "quantitative"}, "y": {"datum": -26.68, "type": "quantitative"}}},
        {"data": {"values": [{}]}, "mark": {"type": "text", "text": "Pz", "fontSize": 46, "fontWeight": "bold", "align": "left", "baseline": "alphabetic", "color": "#000000"},
         "encoding": {"x": {"datum": -313.8, "type": "quantitative"}, "y": {"datum": 8.33, "type": "quantitative"}}},
        {"data": {"values": [{}]}, "mark": {"type": "point", "shape": "M-1,0L-0.1,-0.75L-0.1,-0.28L1,-0.28L1,0.28L-0.1,0.28L-0.1,0.75Z", "size": 1225, "angle": 323, "filled": true, "color": "#000000", "opacity": 1, "strokeWidth": 0},
         "encoding": {"x": {"datum": 429, "type": "quantitative"}, "y": {"datum": 16.45, "type": "quantitative"}}}
      ]
    }
  ],
  "resolve": {"scale": {"x": "independent", "y": "independent"}}
}
